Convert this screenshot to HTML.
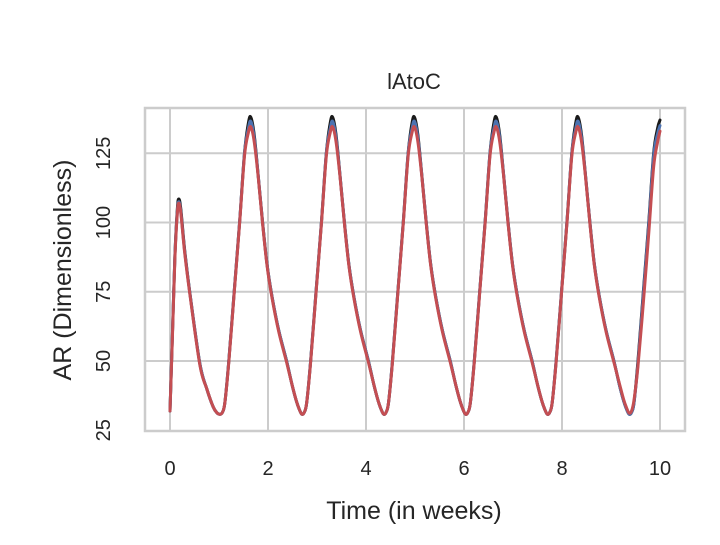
<!DOCTYPE html>
<html><head><meta charset="utf-8"><style>
body{margin:0;background:#fff}
svg text{font-family:"Liberation Sans","DejaVu Sans",sans-serif;fill:#262626}
</style></head><body>
<svg id="chart" width="720" height="540" xmlns="http://www.w3.org/2000/svg">
<g id="grid"></g>
<g id="series"></g>
<rect x="145" y="108" width="540" height="323" fill="none" stroke="#cccccc" stroke-width="2.5"/>
<g id="ticks"></g>
<text x="414" y="89" font-size="22" text-anchor="middle">lAtoC</text>
<text x="414" y="519" font-size="25" text-anchor="middle">Time (in weeks)</text>
<text transform="translate(71,270) rotate(-90)" font-size="25" text-anchor="middle">AR (Dimensionless)</text>
</svg>
<script>
const times=[0,0.05,0.1,0.15,0.18,0.22,0.3,0.41,0.61,0.75,0.88,0.96,1.02,
1.07,1.12,1.20,1.31,1.42,1.52,1.60,1.65,1.72,1.80,1.89,1.98,2.08,2.22,2.38,2.49,2.58,2.64,2.69,
2.74,2.79,2.87,2.98,3.09,3.19,3.27,3.32,3.39,3.47,3.56,3.65,3.75,3.89,4.05,4.16,4.25,4.31,4.36,
4.41,4.46,4.54,4.65,4.76,4.86,4.94,4.99,5.06,5.14,5.23,5.32,5.42,5.56,5.72,5.83,5.92,5.98,6.03,
6.08,6.13,6.21,6.32,6.43,6.53,6.61,6.66,6.73,6.81,6.90,6.99,7.09,7.23,7.39,7.50,7.59,7.65,7.70,
7.75,7.80,7.88,7.99,8.10,8.20,8.28,8.33,8.40,8.48,8.57,8.66,8.76,8.90,9.06,9.17,9.26,9.32,9.37,
9.42,9.47,9.55,9.66,9.77,9.87,9.95,10.0];
const blackVals=[32,60,88,105,108.5,105,90,74,49,40,33.5,31.3,30.8,
31.5,35,50,75,100,125,136,138,131.5,117,100,85,73.5,61,50,41.5,35.5,32.5,30.8,
31.5,35,50,75,100,125,136,138,131.5,117,100,85,73.5,61,50,41.5,35.5,32.5,30.8,
31.5,35,50,75,100,125,136,138,131.5,117,100,85,73.5,61,50,41.5,35.5,32.5,30.8,
31.5,35,50,75,100,125,136,138,131.5,117,100,85,73.5,61,50,41.5,35.5,32.5,30.8,
31.5,35,50,75,100,125,136,138,131.5,117,100,85,73.5,61,50,41.5,35.5,32.5,30.8,
31.5,35,50,75,100,125,134,137];
const blueVals=[32,60,88,104,107.5,104,89.5,74,49,40,33.5,31.3,30.8,
31.5,35,50,75,100,125,134,136.5,130.5,117,100,85,73.5,61,50,41.5,35.5,32.5,30.8,
31.5,35,50,75,100,125,134,136.5,130.5,117,100,85,73.5,61,50,41.5,35.5,32.5,30.8,
31.5,35,50,75,100,125,134,136.5,130.5,117,100,85,73.5,61,50,41.5,35.5,32.5,30.8,
31.5,35,50,75,100,125,134,136.5,130.5,117,100,85,73.5,61,50,41.5,35.5,32.5,30.8,
31.5,35,50,75,100,125,134,136.5,130.5,117,100,85,73.5,61,50,41.5,35.5,32.5,30.8,
31.5,35,49,74,99,124,132,135];
const redVals=[32,59,87,103.5,107,103.5,89,73.5,48.5,40,33.5,31.3,30.8,
31.5,35,49.5,74.5,99.5,124,132.5,134.5,129,116.5,99.5,84.5,73,60.5,49.5,41.5,35.5,32.5,30.8,
31.5,35,49.5,74.5,99.5,124,132.5,134.5,129,116.5,99.5,84.5,73,60.5,49.5,41.5,35.5,32.5,30.8,
31.5,35,49.5,74.5,99.5,124,132.5,134.5,129,116.5,99.5,84.5,73,60.5,49.5,41.5,35.5,32.5,30.8,
31.5,35,49.5,74.5,99.5,124,132.5,134.5,129,116.5,99.5,84.5,73,60.5,49.5,41.5,35.5,32.5,30.8,
31.5,35,49.5,74.5,99.5,124,132.5,134.5,129,116.5,99.5,84.5,73,60.5,49.5,42,36,33,31.2,
32,36,48,71,96,120,129,133];
const xTicks=[0,2,4,6,8,10];
const yTicks=[25,50,75,100,125];
const X=t=>170+t*49;
const Y=v=>153.3+(125-v)*2.77;
const NS="http://www.w3.org/2000/svg";
const grid=document.getElementById('grid'),ticks=document.getElementById('ticks'),ser=document.getElementById('series');
xTicks.forEach(t=>{
 const l=document.createElementNS(NS,'line');
 l.setAttribute('x1',X(t));l.setAttribute('x2',X(t));l.setAttribute('y1',108);l.setAttribute('y2',431);
 l.setAttribute('stroke','#cccccc');l.setAttribute('stroke-width','2');
 
 
 grid.appendChild(l);
 const tx=document.createElementNS(NS,'text');
 tx.setAttribute('x',X(t));tx.setAttribute('y',475);tx.setAttribute('font-size','20');tx.setAttribute('text-anchor','middle');
 tx.textContent=t;
 
 
 ticks.appendChild(tx);
});
yTicks.forEach(v=>{
 if(v>25){
 const l=document.createElementNS(NS,'line');
 l.setAttribute('x1',145);l.setAttribute('x2',685);l.setAttribute('y1',Y(v));l.setAttribute('y2',Y(v));
 l.setAttribute('stroke','#cccccc');l.setAttribute('stroke-width','2');
 
 
 grid.appendChild(l);}
 const tx=document.createElementNS(NS,'text');
 tx.setAttribute('transform','translate(110,'+Y(v)+') rotate(-90)');
 tx.setAttribute('font-size','20');tx.setAttribute('text-anchor','middle');
 tx.textContent=v;
 
 
 ticks.appendChild(tx);
});
function pathFor(vals){
 const p=times.map((t,i)=>[X(t),Y(vals[i])]);
 let d='M'+p[0][0]+','+p[0][1];
 for(let i=0;i<p.length-1;i++){
  const p0=p[Math.max(0,i-1)],p1=p[i],p2=p[i+1],p3=p[Math.min(p.length-1,i+2)];
  const c1x=p1[0]+(p2[0]-p0[0])/6,c1y=p1[1]+(p2[1]-p0[1])/6;
  const c2x=p2[0]-(p3[0]-p1[0])/6,c2y=p2[1]-(p3[1]-p1[1])/6;
  d+=' C'+c1x+','+c1y+' '+c2x+','+c2y+' '+p2[0]+','+p2[1];
 }
 return d;
}
[[blackVals,'#1a1a1a','series-black'],[blueVals,'#4c72b0','series-blue'],[redVals,'#c44e52','series-red']].forEach(s=>{
 const pa=document.createElementNS(NS,'path');
 pa.setAttribute('d',pathFor(s[0]));pa.setAttribute('fill','none');pa.setAttribute('stroke',s[1]);
 pa.setAttribute('stroke-width','3');pa.setAttribute('stroke-linejoin','round');pa.setAttribute('stroke-linecap','round');
 
 
 ser.appendChild(pa);
});
</script>
</body></html>
